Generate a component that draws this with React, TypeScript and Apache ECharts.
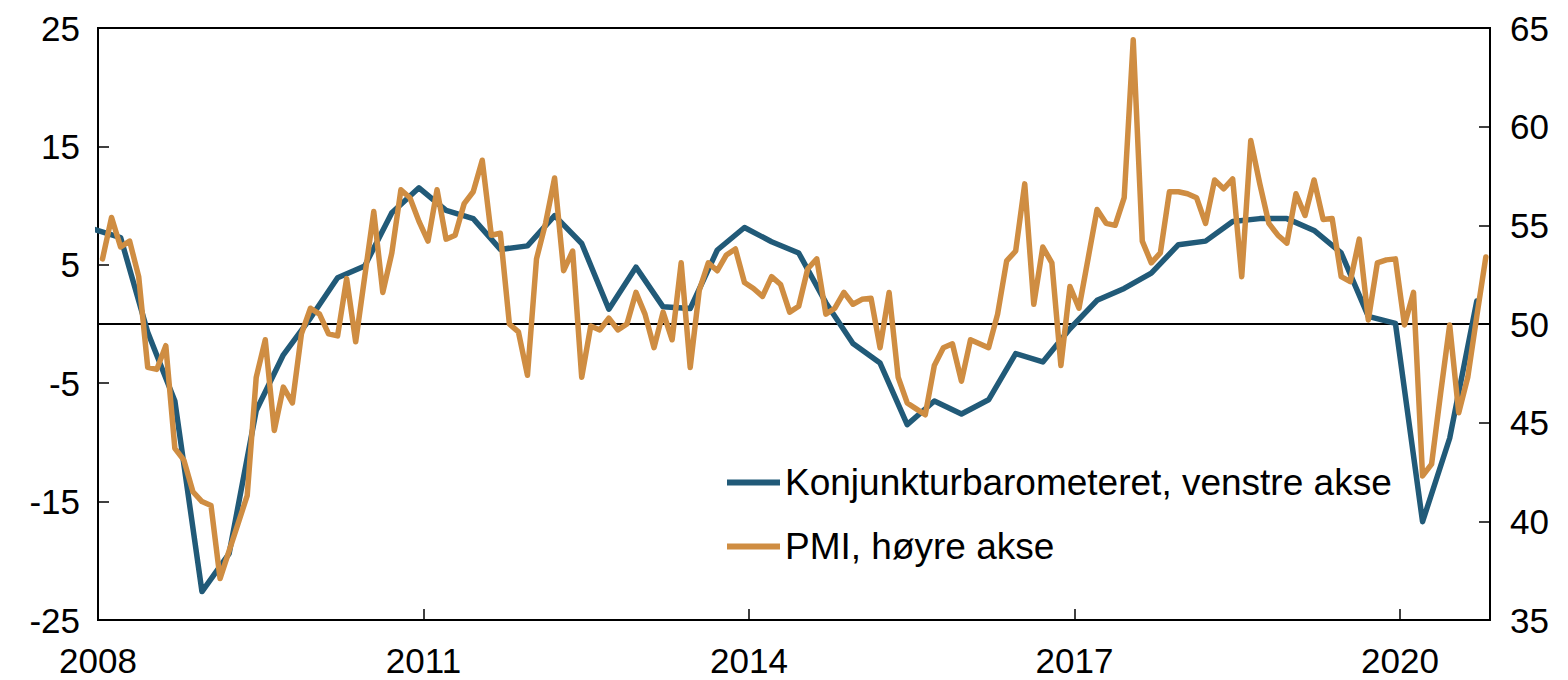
import React, { useEffect, useRef } from "react";
import * as echarts from "echarts";

// Konjunkturbarometeret (quarterly, quarter-end months), first value Dec 2007 (clipped at the axis)
const kbStart = { year: 2007, month: 12 };
const kbValues = [
  8.0, 7.3, -0.7, -6.5, -22.6, -19.4, -7.3, -2.6, 0.5, 3.9, 4.9, 9.4, 11.5,
  9.6, 8.9, 6.3, 6.6, 9.15, 6.8, 1.25, 4.8, 1.45, 1.3, 6.25, 8.15, 6.95,
  6.0, 1.8, -1.65, -3.3, -8.5, -6.5, -7.6, -6.4, -2.5, -3.2, -0.4, 2.0, 3.0,
  4.3, 6.7, 7.0, 8.65, 8.9, 8.9, 7.9, 6.0, 0.65, 0.05, -16.7, -9.65, 1.95,
];

// PMI (monthly) from Jan 2008
const pmiStart = { year: 2008, month: 1 };
const pmiValues = [
  53.3, 55.4, 53.9, 54.2, 52.4, 47.8, 47.7, 48.9, 43.7, 43.1, 41.5, 41.0,
  40.8, 37.1, 38.5, 39.9, 41.3, 47.3, 49.2, 44.6, 46.8, 46.0, 49.5, 50.8,
  50.5, 49.5, 49.4, 52.3, 49.1, 52.4, 55.7, 51.6, 53.6, 56.8, 56.4, 55.2,
  54.2, 56.8, 54.3, 54.5, 56.1, 56.7, 58.3, 54.5, 54.6, 50.0, 49.6, 47.4,
  53.3, 55.1, 57.4, 52.7, 53.7, 47.3, 49.9, 49.7, 50.3, 49.7, 50.0, 51.6,
  50.5, 48.8, 50.6, 49.2, 53.1, 47.8, 51.7, 53.1, 52.7, 53.5, 53.8, 52.1,
  51.8, 51.4, 52.4, 52.0, 50.6, 50.9, 52.8, 53.3, 50.5, 50.8, 51.6, 51.0,
  51.25, 51.3, 48.8, 51.6, 47.3, 46.0, 45.7, 45.4, 47.9, 48.8, 49.0, 47.1,
  49.2, 49.0, 48.8, 50.5, 53.2, 53.7, 57.1, 51.0, 53.9, 53.1, 47.9, 51.9,
  50.8, 53.3, 55.8, 55.1, 55.0, 56.4, 64.4, 54.2, 53.1, 53.6, 56.7, 56.7,
  56.6, 56.4, 55.1, 57.3, 56.85, 57.35, 52.4, 59.3, 57.1, 55.1, 54.5, 54.1,
  56.6, 55.5, 57.3, 55.3, 55.35, 52.4, 52.15, 54.3, 50.2, 53.1, 53.25, 53.3,
  49.95, 51.6, 42.3, 42.9, 46.5, 49.95, 45.5, 47.3, 50.4, 53.4,
];

const xTickLabels = [2008, 2011, 2014, 2017, 2020];
const leftAxis = { min: -25, max: 25, interval: 10 };
const rightAxis = { min: 35, max: 65, interval: 5 };
const seriesNames = ["Konjunkturbarometeret, venstre akse", "PMI, høyre akse"];

// mid-month position in decimal years
const toYear = (year: number, month: number) => year + (month - 1 + 0.5) / 12;

const buildSeries = (start: { year: number; month: number }, step: number, values: number[]) =>
  values.map((v, i) => {
    const total = start.year * 12 + (start.month - 1) + i * step;
    const y = Math.floor(total / 12);
    const m = (total % 12) + 1;
    return [toYear(y, m), v];
  });

const FONT = "Liberation Sans, Arial, sans-serif";
const BLUE = "#215a78";
const ORANGE = "#cf8d42";

export default function App() {
  const ref = useRef<HTMLDivElement>(null);

  useEffect(() => {
    if (!ref.current) return;
    const chart = echarts.init(ref.current, undefined, { renderer: "svg" });
    const axisLine = { show: true, onZero: false, lineStyle: { color: "#000", width: 2 } };
    const labelStyle = { color: "#000", fontSize: 35, fontFamily: FONT };
    const tick = { show: true, inside: true, length: 11, lineStyle: { color: "#000", width: 1.5 } };
    chart.setOption({
      animation: false,
      backgroundColor: "#fff",
      grid: {
        left: 98,
        right: 78,
        top: 28,
        bottom: 60,
        show: true,
        borderColor: "#000",
        borderWidth: 2,
        backgroundColor: "transparent",
      },
      legend: {
        left: 722,
        top: 459,
        orient: "vertical",
        itemGap: 27,
        itemWidth: 53,
        itemHeight: 6,
        icon: "rect",
        textStyle: { color: "#000", fontSize: 37, fontFamily: FONT },
        data: seriesNames,
      },
      xAxis: {
        type: "value",
        min: 2008,
        max: 2020.83,
        axisLine,
        splitLine: { show: false },
        axisTick: { ...tick, customValues: xTickLabels },
        axisLabel: {
          ...labelStyle,
          margin: 23,
          customValues: xTickLabels,
          formatter: (v: number) => String(Math.round(v)),
        },
      },
      yAxis: [
        {
          type: "value",
          position: "left",
          ...leftAxis,
          axisLine,
          splitLine: { show: false },
          axisTick: tick,
          axisLabel: { ...labelStyle, margin: 18 },
        },
        {
          type: "value",
          position: "right",
          ...rightAxis,
          axisLine,
          splitLine: { show: false },
          axisTick: tick,
          axisLabel: { ...labelStyle, margin: 20 },
        },
      ],
      series: [
        {
          name: seriesNames[0],
          type: "line",
          yAxisIndex: 0,
          data: buildSeries(kbStart, 3, kbValues),
          showSymbol: false,
          symbol: "none",
          clip: true,
          color: BLUE,
          lineStyle: { color: BLUE, width: 5.5, join: "round", cap: "round" },
          markLine: {
            silent: true,
            symbol: "none",
            label: { show: false },
            lineStyle: { color: "#000", width: 2, type: "solid" },
            data: [{ yAxis: 0 }],
            z: 1,
          },
          z: 3,
        },
        {
          name: seriesNames[1],
          type: "line",
          yAxisIndex: 1,
          data: buildSeries(pmiStart, 1, pmiValues),
          showSymbol: false,
          symbol: "none",
          clip: true,
          color: ORANGE,
          lineStyle: { color: ORANGE, width: 5.5, join: "round", cap: "round" },
          z: 4,
        },
      ],
    });
    return () => chart.dispose();
  }, []);

  return (
    <div
      ref={ref}
      style={{ position: "fixed", left: 0, top: 0, width: 1568, height: 680, background: "#fff" }}
    />
  );
}
